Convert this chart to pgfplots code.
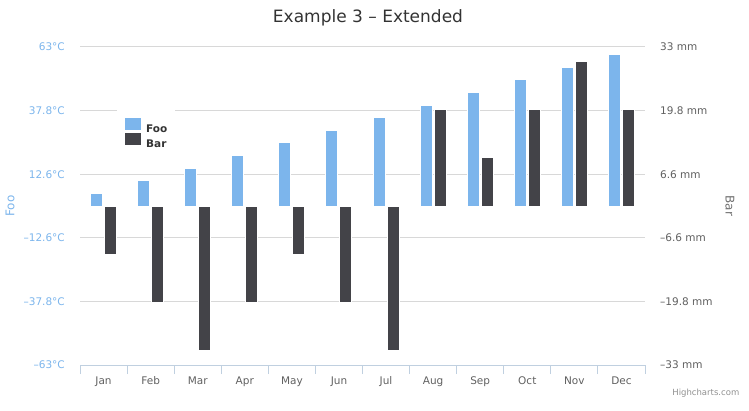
\documentclass[border=0pt]{standalone}
\usepackage{pgfplots}
\pgfplotsset{compat=1.18}
\usepackage{fontspec}
\setmainfont{DejaVu Sans}

\definecolor{foo}{HTML}{7CB5EC}
\definecolor{bar}{HTML}{434348}
\definecolor{gridc}{HTML}{D8D8D8}
\definecolor{axisc}{HTML}{C0D0E0}
\definecolor{labelc}{HTML}{606060}
\definecolor{titlec}{HTML}{333333}
\definecolor{axtitle}{HTML}{707070}
\definecolor{creditc}{HTML}{909090}

\newcommand{\ticksize}{\fontsize{10.5}{12}\selectfont}

\pgfplotsset{
  sqlegend/.style={legend image code/.code={\fill[##1,draw=none] (0pt,-1pt) rectangle (16pt,11pt);}},
  common/.style={
    at={(80pt,45pt)}, anchor=south west,
    scale only axis, width=565pt, height=318pt,
    xmin=-0.5, xmax=11.5,
    major tick length=0pt,
    yticklabel shift=15pt,
    tick label style={font=\ticksize, inner sep=0pt},
    y axis line style={draw=none},
  },
}

\begin{document}
\begin{tikzpicture}[x=1pt,y=1pt]
\path[use as bounding box] (0,0) rectangle (749,410);

% left axis: Foo
\begin{axis}[
  common,
  ymin=-63, ymax=63,
  axis x line*=bottom, axis y line*=left,
  x axis line style={-, draw=axisc, line width=1pt},
  xtick={0,...,11},
  xticklabels={Jan,Feb,Mar,Apr,May,Jun,Jul,Aug,Sep,Oct,Nov,Dec},
  xticklabel style={anchor=base, text=labelc},
  xticklabel shift=19pt,
  minor xtick={-0.5,0.5,...,11.5},
  tick align=outside,
  minor tick length=9pt,
  minor tick style={draw=axisc, line width=1pt},
  ytick={-63,-37.8,-12.6,12.6,37.8,63},
  yticklabels={–63°C,–37.8°C,–12.6°C,12.6°C,37.8°C,63°C},
  yticklabel style={anchor=east, text=foo},
  ymajorgrids,
  grid style={draw=gridc, line width=1pt},
  ylabel={Foo},
  ylabel style={at={(axis description cs:-0.1239,0.5)}, anchor=center,
                text=foo, font=\fontsize{12}{14}\selectfont},
]
\addplot[ybar, bar width=12pt, bar shift=-7pt, fill=foo, draw=white, line width=1pt]
  coordinates {(0,5) (1,10) (2,15) (3,20) (4,25) (5,30)
               (6,35) (7,40) (8,45) (9,50) (10,55) (11,60)};
\end{axis}

% right axis: Bar
\begin{axis}[
  common,
  ymin=-33, ymax=33,
  axis x line=none, axis y line*=right,
  ytick={-33,-19.8,-6.6,6.6,19.8,33},
  yticklabels={–33 mm,–19.8 mm,–6.6 mm,6.6 mm,19.8 mm,33 mm},
  yticklabel style={anchor=west, text=labelc},
  ylabel={Bar},
  ylabel style={at={(axis description cs:1.1504,0.5)}, anchor=center, rotate=180,
                text=axtitle, font=\fontsize{12}{14}\selectfont},
  legend style={at={(0.0655,0.8019)}, anchor=north west, draw=none, fill=white,
                inner xsep=8pt, inner ysep=8pt, row sep=-2pt, column sep=5pt,
                font=\bfseries\fontsize{10.5}{12}\selectfont, text=titlec,
                nodes={inner sep=0pt, text height=9pt, text depth=3pt}},
  legend cell align=left,
]
\addlegendimage{sqlegend, fill=foo}
\addlegendentry{Foo}
\addplot[ybar, bar width=12pt, bar shift=7pt, fill=bar, draw=white, line width=1pt, sqlegend]
  coordinates {(0,-10) (1,-20) (2,-30) (3,-20) (4,-10) (5,-20)
               (6,-30) (7,20) (8,10) (9,20) (10,30) (11,20)};
\addlegendentry{Bar}
\end{axis}

\node[text=titlec, font=\fontsize{17}{20}\selectfont] at (368,392) {Example 3 – Extended};
\node[text=creditc, font=\fontsize{8.5}{10}\selectfont, anchor=east, inner sep=0pt] at (739.5,17) {Highcharts.com};
\end{tikzpicture}
\end{document}
